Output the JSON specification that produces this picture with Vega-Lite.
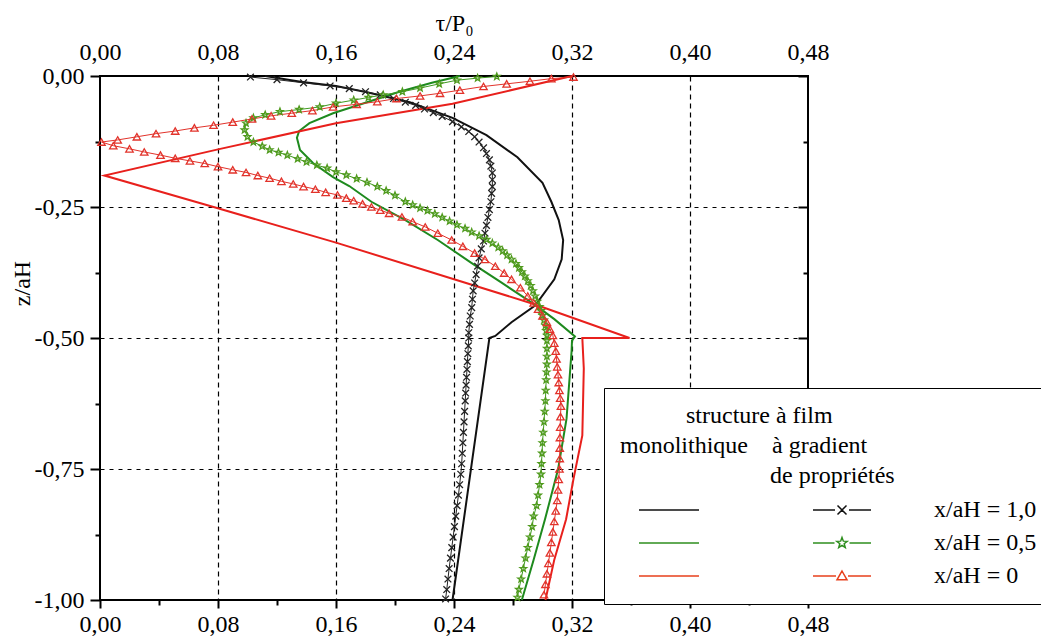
{
"$schema": "https://vega.github.io/schema/vega-lite/v6.json",
"width": 708, "height": 524,
"autosize": {"type": "none"},
"padding": {"left": 100, "top": 76, "right": 233, "bottom": 44},
"background": "white",
"config": {"view": {"stroke": "black", "strokeWidth": 2}, "font": "Liberation Serif, Times New Roman, serif"},
"datasets": {
"mono": [
{"case":"1,0","tau":0.112,"z":0},{"case":"1,0","tau":0.136,"z":-0.011},{"case":"1,0","tau":0.160,"z":-0.019},{"case":"1,0","tau":0.181,"z":-0.031},{"case":"1,0","tau":0.210,"z":-0.050},{"case":"1,0","tau":0.239,"z":-0.080},{"case":"1,0","tau":0.262,"z":-0.113},{"case":"1,0","tau":0.283,"z":-0.155},{"case":"1,0","tau":0.300,"z":-0.204},{"case":"1,0","tau":0.306,"z":-0.240},{"case":"1,0","tau":0.311,"z":-0.275},{"case":"1,0","tau":0.314,"z":-0.313},{"case":"1,0","tau":0.313,"z":-0.350},{"case":"1,0","tau":0.308,"z":-0.388},{"case":"1,0","tau":0.295,"z":-0.438},{"case":"1,0","tau":0.279,"z":-0.470},{"case":"1,0","tau":0.268,"z":-0.496},{"case":"1,0","tau":0.264,"z":-0.500},{"case":"1,0","tau":0.239,"z":-1.0},
{"case":"0,5","tau":0.244,"z":0},{"case":"0,5","tau":0.225,"z":-0.013},{"case":"0,5","tau":0.203,"z":-0.030},{"case":"0,5","tau":0.181,"z":-0.050},{"case":"0,5","tau":0.158,"z":-0.071},{"case":"0,5","tau":0.142,"z":-0.090},{"case":"0,5","tau":0.135,"z":-0.105},{"case":"0,5","tau":0.1335,"z":-0.118},{"case":"0,5","tau":0.1356,"z":-0.141},{"case":"0,5","tau":0.1444,"z":-0.166},{"case":"0,5","tau":0.158,"z":-0.193},{"case":"0,5","tau":0.169,"z":-0.210},{"case":"0,5","tau":0.184,"z":-0.240},{"case":"0,5","tau":0.207,"z":-0.275},{"case":"0,5","tau":0.229,"z":-0.313},{"case":"0,5","tau":0.252,"z":-0.357},{"case":"0,5","tau":0.272,"z":-0.394},{"case":"0,5","tau":0.294,"z":-0.435},{"case":"0,5","tau":0.308,"z":-0.464},{"case":"0,5","tau":0.322,"z":-0.497},{"case":"0,5","tau":0.320,"z":-0.505},{"case":"0,5","tau":0.3197,"z":-0.526},{"case":"0,5","tau":0.3163,"z":-0.654},{"case":"0,5","tau":0.3106,"z":-0.75},{"case":"0,5","tau":0.3017,"z":-0.846},{"case":"0,5","tau":0.294,"z":-0.923},{"case":"0,5","tau":0.286,"z":-1.0},
{"case":"0","tau":0.320,"z":0},{"case":"0","tau":0.239,"z":-0.053},{"case":"0","tau":0.160,"z":-0.090},{"case":"0","tau":0.080,"z":-0.140},{"case":"0","tau":0.003,"z":-0.190},{"case":"0","tau":0.077,"z":-0.250},{"case":"0","tau":0.160,"z":-0.318},{"case":"0","tau":0.294,"z":-0.435},{"case":"0","tau":0.359,"z":-0.500},{"case":"0","tau":0.327,"z":-0.500},{"case":"0","tau":0.328,"z":-0.558},{"case":"0","tau":0.327,"z":-0.686},{"case":"0","tau":0.321,"z":-0.769},{"case":"0","tau":0.316,"z":-0.846},{"case":"0","tau":0.308,"z":-0.923},{"case":"0","tau":0.302,"z":-1.0}
],
"grad": [
{"case":"1,0","tau":0.102,"z":-0.002},{"case":"1,0","tau":0.120,"z":-0.007},{"case":"1,0","tau":0.138,"z":-0.013},{"case":"1,0","tau":0.156,"z":-0.019},{"case":"1,0","tau":0.169,"z":-0.024},{"case":"1,0","tau":0.180,"z":-0.030},{"case":"1,0","tau":0.190,"z":-0.036},{"case":"1,0","tau":0.199,"z":-0.043},{"case":"1,0","tau":0.207,"z":-0.050},{"case":"1,0","tau":0.214,"z":-0.056},{"case":"1,0","tau":0.220,"z":-0.063},{"case":"1,0","tau":0.226,"z":-0.070},{"case":"1,0","tau":0.232,"z":-0.077},{"case":"1,0","tau":0.239,"z":-0.087},{"case":"1,0","tau":0.245,"z":-0.097},{"case":"1,0","tau":0.250,"z":-0.106},{"case":"1,0","tau":0.254,"z":-0.116},{"case":"1,0","tau":0.257,"z":-0.126},{"case":"1,0","tau":0.260,"z":-0.137},{"case":"1,0","tau":0.262,"z":-0.148},{"case":"1,0","tau":0.264,"z":-0.160},{"case":"1,0","tau":0.265,"z":-0.172},{"case":"1,0","tau":0.266,"z":-0.185},{"case":"1,0","tau":0.266,"z":-0.198},{"case":"1,0","tau":0.266,"z":-0.211},{"case":"1,0","tau":0.2655,"z":-0.224},{"case":"1,0","tau":0.265,"z":-0.240},{"case":"1,0","tau":0.264,"z":-0.255},{"case":"1,0","tau":0.263,"z":-0.270},{"case":"1,0","tau":0.262,"z":-0.285},{"case":"1,0","tau":0.261,"z":-0.300},{"case":"1,0","tau":0.260,"z":-0.315},{"case":"1,0","tau":0.2585,"z":-0.330},{"case":"1,0","tau":0.257,"z":-0.347},{"case":"1,0","tau":0.256,"z":-0.363},{"case":"1,0","tau":0.255,"z":-0.379},{"case":"1,0","tau":0.254,"z":-0.395},{"case":"1,0","tau":0.253,"z":-0.410},{"case":"1,0","tau":0.2525,"z":-0.426},{"case":"1,0","tau":0.252,"z":-0.442},{"case":"1,0","tau":0.251,"z":-0.458},{"case":"1,0","tau":0.2505,"z":-0.474},{"case":"1,0","tau":0.250,"z":-0.490},{"case":"1,0","tau":0.250,"z":-0.500},{"case":"1,0","tau":0.2497,"z":-0.515},{"case":"1,0","tau":0.2494,"z":-0.530},{"case":"1,0","tau":0.2491,"z":-0.545},{"case":"1,0","tau":0.2488,"z":-0.560},{"case":"1,0","tau":0.2485,"z":-0.575},{"case":"1,0","tau":0.2482,"z":-0.590},{"case":"1,0","tau":0.2479,"z":-0.605},{"case":"1,0","tau":0.2476,"z":-0.620},{"case":"1,0","tau":0.2472,"z":-0.640},{"case":"1,0","tau":0.2468,"z":-0.660},{"case":"1,0","tau":0.2464,"z":-0.680},{"case":"1,0","tau":0.246,"z":-0.700},{"case":"1,0","tau":0.2456,"z":-0.720},{"case":"1,0","tau":0.2452,"z":-0.740},{"case":"1,0","tau":0.2446,"z":-0.760},{"case":"1,0","tau":0.2438,"z":-0.780},{"case":"1,0","tau":0.243,"z":-0.800},{"case":"1,0","tau":0.2421,"z":-0.820},{"case":"1,0","tau":0.2412,"z":-0.840},{"case":"1,0","tau":0.2403,"z":-0.860},{"case":"1,0","tau":0.2394,"z":-0.880},{"case":"1,0","tau":0.2385,"z":-0.900},{"case":"1,0","tau":0.2376,"z":-0.920},{"case":"1,0","tau":0.2367,"z":-0.940},{"case":"1,0","tau":0.2359,"z":-0.960},{"case":"1,0","tau":0.2351,"z":-0.980},{"case":"1,0","tau":0.2343,"z":-0.998},
{"case":"0,5","tau":0.269,"z":-0.001},{"case":"0,5","tau":0.256,"z":-0.004},{"case":"0,5","tau":0.242,"z":-0.008},{"case":"0,5","tau":0.230,"z":-0.015},{"case":"0,5","tau":0.217,"z":-0.023},{"case":"0,5","tau":0.205,"z":-0.030},{"case":"0,5","tau":0.192,"z":-0.036},{"case":"0,5","tau":0.182,"z":-0.041},{"case":"0,5","tau":0.172,"z":-0.046},{"case":"0,5","tau":0.160,"z":-0.052},{"case":"0,5","tau":0.149,"z":-0.059},{"case":"0,5","tau":0.135,"z":-0.064},{"case":"0,5","tau":0.122,"z":-0.068},{"case":"0,5","tau":0.112,"z":-0.074},{"case":"0,5","tau":0.104,"z":-0.080},{"case":"0,5","tau":0.099,"z":-0.090},{"case":"0,5","tau":0.098,"z":-0.103},{"case":"0,5","tau":0.100,"z":-0.116},{"case":"0,5","tau":0.104,"z":-0.126},{"case":"0,5","tau":0.110,"z":-0.134},{"case":"0,5","tau":0.115,"z":-0.141},{"case":"0,5","tau":0.121,"z":-0.146},{"case":"0,5","tau":0.127,"z":-0.151},{"case":"0,5","tau":0.134,"z":-0.158},{"case":"0,5","tau":0.140,"z":-0.164},{"case":"0,5","tau":0.147,"z":-0.170},{"case":"0,5","tau":0.154,"z":-0.176},{"case":"0,5","tau":0.160,"z":-0.183},{"case":"0,5","tau":0.167,"z":-0.189},{"case":"0,5","tau":0.174,"z":-0.196},{"case":"0,5","tau":0.181,"z":-0.203},{"case":"0,5","tau":0.188,"z":-0.211},{"case":"0,5","tau":0.194,"z":-0.219},{"case":"0,5","tau":0.200,"z":-0.228},{"case":"0,5","tau":0.207,"z":-0.240},{"case":"0,5","tau":0.212,"z":-0.246},{"case":"0,5","tau":0.217,"z":-0.252},{"case":"0,5","tau":0.222,"z":-0.257},{"case":"0,5","tau":0.227,"z":-0.263},{"case":"0,5","tau":0.232,"z":-0.270},{"case":"0,5","tau":0.237,"z":-0.277},{"case":"0,5","tau":0.242,"z":-0.284},{"case":"0,5","tau":0.2475,"z":-0.291},{"case":"0,5","tau":0.252,"z":-0.298},{"case":"0,5","tau":0.257,"z":-0.305},{"case":"0,5","tau":0.262,"z":-0.312},{"case":"0,5","tau":0.266,"z":-0.319},{"case":"0,5","tau":0.270,"z":-0.327},{"case":"0,5","tau":0.273,"z":-0.334},{"case":"0,5","tau":0.276,"z":-0.342},{"case":"0,5","tau":0.279,"z":-0.350},{"case":"0,5","tau":0.282,"z":-0.358},{"case":"0,5","tau":0.284,"z":-0.366},{"case":"0,5","tau":0.286,"z":-0.374},{"case":"0,5","tau":0.288,"z":-0.382},{"case":"0,5","tau":0.290,"z":-0.391},{"case":"0,5","tau":0.292,"z":-0.400},{"case":"0,5","tau":0.2935,"z":-0.410},{"case":"0,5","tau":0.295,"z":-0.420},{"case":"0,5","tau":0.2965,"z":-0.430},{"case":"0,5","tau":0.298,"z":-0.440},{"case":"0,5","tau":0.299,"z":-0.448},{"case":"0,5","tau":0.300,"z":-0.457},{"case":"0,5","tau":0.301,"z":-0.466},{"case":"0,5","tau":0.302,"z":-0.476},{"case":"0,5","tau":0.3025,"z":-0.486},{"case":"0,5","tau":0.303,"z":-0.495},{"case":"0,5","tau":0.303,"z":-0.505},{"case":"0,5","tau":0.303,"z":-0.520},{"case":"0,5","tau":0.303,"z":-0.535},{"case":"0,5","tau":0.303,"z":-0.550},{"case":"0,5","tau":0.3028,"z":-0.565},{"case":"0,5","tau":0.3025,"z":-0.580},{"case":"0,5","tau":0.3022,"z":-0.600},{"case":"0,5","tau":0.302,"z":-0.620},{"case":"0,5","tau":0.3015,"z":-0.640},{"case":"0,5","tau":0.301,"z":-0.660},{"case":"0,5","tau":0.3005,"z":-0.680},{"case":"0,5","tau":0.300,"z":-0.700},{"case":"0,5","tau":0.2997,"z":-0.720},{"case":"0,5","tau":0.2993,"z":-0.740},{"case":"0,5","tau":0.299,"z":-0.760},{"case":"0,5","tau":0.298,"z":-0.780},{"case":"0,5","tau":0.297,"z":-0.800},{"case":"0,5","tau":0.296,"z":-0.820},{"case":"0,5","tau":0.294,"z":-0.840},{"case":"0,5","tau":0.293,"z":-0.860},{"case":"0,5","tau":0.2915,"z":-0.880},{"case":"0,5","tau":0.290,"z":-0.900},{"case":"0,5","tau":0.2885,"z":-0.920},{"case":"0,5","tau":0.287,"z":-0.940},{"case":"0,5","tau":0.2855,"z":-0.960},{"case":"0,5","tau":0.284,"z":-0.980},{"case":"0,5","tau":0.283,"z":-0.995},
{"case":"0","tau":0.321,"z":-0.002},{"case":"0","tau":0.306,"z":-0.005},{"case":"0","tau":0.2915,"z":-0.010},{"case":"0","tau":0.2757,"z":-0.015},{"case":"0","tau":0.260,"z":-0.020},{"case":"0","tau":0.244,"z":-0.027},{"case":"0","tau":0.2305,"z":-0.033},{"case":"0","tau":0.217,"z":-0.038},{"case":"0","tau":0.201,"z":-0.043},{"case":"0","tau":0.188,"z":-0.049},{"case":"0","tau":0.174,"z":-0.054},{"case":"0","tau":0.158,"z":-0.059},{"case":"0","tau":0.144,"z":-0.066},{"case":"0","tau":0.130,"z":-0.071},{"case":"0","tau":0.116,"z":-0.076},{"case":"0","tau":0.103,"z":-0.082},{"case":"0","tau":0.090,"z":-0.088},{"case":"0","tau":0.077,"z":-0.094},{"case":"0","tau":0.064,"z":-0.099},{"case":"0","tau":0.051,"z":-0.105},{"case":"0","tau":0.038,"z":-0.110},{"case":"0","tau":0.025,"z":-0.116},{"case":"0","tau":0.012,"z":-0.122},{"case":"0","tau":0.001,"z":-0.126},{"case":"0","tau":0.009,"z":-0.133},{"case":"0","tau":0.020,"z":-0.139},{"case":"0","tau":0.030,"z":-0.145},{"case":"0","tau":0.041,"z":-0.151},{"case":"0","tau":0.051,"z":-0.157},{"case":"0","tau":0.061,"z":-0.162},{"case":"0","tau":0.071,"z":-0.167},{"case":"0","tau":0.080,"z":-0.173},{"case":"0","tau":0.090,"z":-0.179},{"case":"0","tau":0.099,"z":-0.184},{"case":"0","tau":0.107,"z":-0.190},{"case":"0","tau":0.115,"z":-0.195},{"case":"0","tau":0.123,"z":-0.201},{"case":"0","tau":0.131,"z":-0.206},{"case":"0","tau":0.138,"z":-0.211},{"case":"0","tau":0.146,"z":-0.216},{"case":"0","tau":0.153,"z":-0.222},{"case":"0","tau":0.161,"z":-0.227},{"case":"0","tau":0.167,"z":-0.233},{"case":"0","tau":0.172,"z":-0.238},{"case":"0","tau":0.178,"z":-0.244},{"case":"0","tau":0.184,"z":-0.250},{"case":"0","tau":0.190,"z":-0.256},{"case":"0","tau":0.196,"z":-0.262},{"case":"0","tau":0.2047,"z":-0.269},{"case":"0","tau":0.212,"z":-0.278},{"case":"0","tau":0.2205,"z":-0.288},{"case":"0","tau":0.229,"z":-0.300},{"case":"0","tau":0.2384,"z":-0.313},{"case":"0","tau":0.246,"z":-0.325},{"case":"0","tau":0.254,"z":-0.338},{"case":"0","tau":0.261,"z":-0.350},{"case":"0","tau":0.268,"z":-0.363},{"case":"0","tau":0.274,"z":-0.376},{"case":"0","tau":0.279,"z":-0.388},{"case":"0","tau":0.285,"z":-0.404},{"case":"0","tau":0.290,"z":-0.420},{"case":"0","tau":0.294,"z":-0.433},{"case":"0","tau":0.297,"z":-0.445},{"case":"0","tau":0.300,"z":-0.458},{"case":"0","tau":0.303,"z":-0.470},{"case":"0","tau":0.305,"z":-0.483},{"case":"0","tau":0.307,"z":-0.495},{"case":"0","tau":0.308,"z":-0.510},{"case":"0","tau":0.309,"z":-0.525},{"case":"0","tau":0.3095,"z":-0.540},{"case":"0","tau":0.310,"z":-0.555},{"case":"0","tau":0.3105,"z":-0.570},{"case":"0","tau":0.311,"z":-0.585},{"case":"0","tau":0.3115,"z":-0.600},{"case":"0","tau":0.312,"z":-0.615},{"case":"0","tau":0.3125,"z":-0.630},{"case":"0","tau":0.3122,"z":-0.650},{"case":"0","tau":0.312,"z":-0.670},{"case":"0","tau":0.3118,"z":-0.690},{"case":"0","tau":0.3117,"z":-0.710},{"case":"0","tau":0.3117,"z":-0.730},{"case":"0","tau":0.3115,"z":-0.750},{"case":"0","tau":0.311,"z":-0.770},{"case":"0","tau":0.3105,"z":-0.790},{"case":"0","tau":0.310,"z":-0.810},{"case":"0","tau":0.309,"z":-0.830},{"case":"0","tau":0.308,"z":-0.850},{"case":"0","tau":0.307,"z":-0.870},{"case":"0","tau":0.306,"z":-0.890},{"case":"0","tau":0.305,"z":-0.910},{"case":"0","tau":0.304,"z":-0.930},{"case":"0","tau":0.303,"z":-0.950},{"case":"0","tau":0.302,"z":-0.970},{"case":"0","tau":0.301,"z":-0.990}
],
"leg": [{"case":"1,0"},{"case":"0,5"},{"case":"0"}]
},
"resolve": {
  "scale": {"color": "independent", "shape": "independent", "size": "independent"},
  "axis": {"x": "independent", "y": "independent"},
  "legend": {"color": "independent", "shape": "independent", "size": "independent"}
},
"layer": [
{
  "mark": {"type": "rule", "color": "black", "strokeWidth": 2},
  "encoding": {"y": {"datum": -0.5, "type": "quantitative", "scale": {"domain": [-1, 0], "nice": false, "zero": false}, "axis": null}}
},
{
  "data": {"name": "mono"},
  "mark": {"type": "line", "strokeWidth": 2},
  "encoding": {
    "x": {"field": "tau", "type": "quantitative", "scale": {"domain": [0, 0.48], "nice": false, "zero": false},
      "axis": {"orient": "bottom", "title": null, "domain": false,
        "values": [0,0.04,0.08,0.12,0.16,0.2,0.24,0.28,0.32,0.36,0.4,0.44,0.48],
        "labelExpr": "round(datum.value*100) % 8 == 4 ? '' : replace(format(datum.value, '.2f'), '.', ',')",
        "labelFont": "Liberation Serif, Times New Roman, serif", "labelFontSize": 24, "labelColor": "black", "labelPadding": 4, "labelFlush": false, "labelOverlap": false,
        "ticks": true, "tickColor": "black", "tickWidth": 2,
        "tickSize": {"condition": {"test": "round(datum.value*100) % 8 == 4", "value": 5}, "value": 8},
        "grid": true, "gridColor": "black", "gridWidth": 1.2, "gridDash": [5, 4],
        "gridOpacity": {"condition": {"test": "round(datum.value*100) % 8 == 4 || datum.value < 0.01 || datum.value > 0.47", "value": 0}, "value": 1}
      }},
    "y": {"field": "z", "type": "quantitative", "scale": {"domain": [-1, 0], "nice": false, "zero": false},
      "axis": {"orient": "left", "title": "z/aH", "titleFont": "Liberation Serif, Times New Roman, serif", "titleFontSize": 24, "titleFontWeight": "normal", "titleColor": "black",
        "titleX": -78, "titleY": 207, "titleAngle": 270, "titleAlign": "center", "titleBaseline": "middle",
        "domain": false,
        "values": [0,-0.125,-0.25,-0.375,-0.5,-0.625,-0.75,-0.875,-1],
        "labelExpr": "abs(round(datum.value*1000)) % 250 != 0 ? '' : replace(replace(format(datum.value, '.2f'), '.', ','), '\u2212', '-')",
        "labelFont": "Liberation Serif, Times New Roman, serif", "labelFontSize": 24, "labelColor": "black", "labelPadding": 6, "labelFlush": false, "labelOverlap": false,
        "ticks": true, "tickColor": "black", "tickWidth": 2,
        "tickSize": {"condition": {"test": "abs(round(datum.value*1000)) % 250 != 0", "value": 5}, "value": 10},
        "grid": true, "gridColor": "black", "gridWidth": 1.2, "gridDash": [4, 5],
        "gridOpacity": {"condition": {"test": "abs(round(datum.value*1000)) % 250 != 0 || datum.value > -0.01 || datum.value < -0.99", "value": 0}, "value": 1}
      }},
    "color": {"field": "case", "type": "nominal", "scale": {"domain": ["1,0","0,5","0"], "range": ["#111111","#1e8a1e","#e8201c"]}, "legend": null},
    "order": {"value": null}
  }
},
{
  "data": {"name": "grad"},
  "mark": {"type": "line", "strokeWidth": 1},
  "encoding": {
    "x": {"field": "tau", "type": "quantitative", "scale": {"domain": [0, 0.48], "nice": false, "zero": false},
      "axis": {"orient": "top", "title": "τ/P₀", "titleFont": "Liberation Serif, Times New Roman, serif", "titleFontSize": 24, "titleFontWeight": "normal", "titleColor": "black", "titlePadding": 5,
        "domain": false, "values": [0,0.08,0.16,0.24,0.32,0.4,0.48],
        "labelExpr": "replace(format(datum.value, '.2f'), '.', ',')",
        "labelFont": "Liberation Serif, Times New Roman, serif", "labelFontSize": 24, "labelColor": "black", "labelPadding": 12, "labelFlush": false, "labelOverlap": false,
        "ticks": false, "tickSize": 0, "grid": false}},
    "y": {"field": "z", "type": "quantitative", "scale": {"domain": [-1, 0], "nice": false, "zero": false},
      "axis": {"orient": "right", "title": null, "domain": false, "labels": false, "grid": false,
        "values": [0,-0.125,-0.25,-0.375,-0.5,-0.625,-0.75,-0.875,-1],
        "ticks": true, "tickColor": "black", "tickWidth": 2,
        "tickSize": {"condition": {"test": "abs(round(datum.value*1000)) % 250 != 0", "value": -5}, "value": -10}}},
    "color": {"field": "case", "type": "nominal", "scale": {"domain": ["1,0","0,5","0"], "range": ["#222222","#3f9a22","#e2332b"]}, "legend": null},
    "order": {"value": null}
  }
},
{
  "data": {"name": "grad"},
  "mark": {"type": "point", "filled": false, "strokeWidth": 1.3, "opacity": 1},
  "encoding": {
    "x": {"field": "tau", "type": "quantitative", "scale": {"domain": [0, 0.48], "nice": false, "zero": false}, "axis": null},
    "y": {"field": "z", "type": "quantitative", "scale": {"domain": [-1, 0], "nice": false, "zero": false}, "axis": null},
    "color": {"field": "case", "type": "nominal", "scale": {"domain": ["1,0","0,5","0"], "range": ["#222222","#4f9a1c","#e2332b"]}, "legend": null},
    "shape": {"field": "case", "type": "nominal", "scale": {"domain": ["1,0","0,5","0"], "range": ["M-1,-1L1,1M-1,1L1,-1", "M0,-1L0.247,-0.34L0.951,-0.309L0.399,0.13L0.588,0.809L0,0.42L-0.588,0.809L-0.399,0.13L-0.951,-0.309L-0.247,-0.34Z", "triangle-up"]}, "legend": null},
    "size": {"field": "case", "type": "nominal", "scale": {"domain": ["1,0","0,5","0"], "range": [45, 55, 75]}, "legend": null}
  }
},
{
  "data": {"name": "leg"},
  "mark": {"type": "point", "filled": false, "opacity": 0},
  "encoding": {
    "color": {"field": "case", "type": "nominal", "scale": {"domain": ["1,0","0,5","0"], "range": ["#111111","#2f8f1f","#e8401c"]},
      "legend": {"orient": "none", "legendX": 504, "legendY": 312, "direction": "vertical",
        "title": ["\u200b\u00a0\u00a0\u00a0\u00a0\u00a0\u00a0\u00a0\u00a0\u00a0\u00a0\u00a0structure à film", "monolithique\u00a0\u00a0\u00a0\u00a0à gradient", "\u200b\u00a0\u00a0\u00a0\u00a0\u00a0\u00a0\u00a0\u00a0\u00a0\u00a0\u00a0\u00a0\u00a0\u00a0\u00a0\u00a0\u00a0\u00a0\u00a0\u00a0\u00a0\u00a0\u00a0\u00a0\u00a0de propriétés"],
        "titleFont": "Liberation Serif, Times New Roman, serif", "titleFontSize": 24, "titleFontWeight": "normal", "titleColor": "black", "titleLineHeight": 30, "titleAlign": "left", "titleAnchor": "start", "titlePadding": 10, "titleLimit": 1000,
        "labelFont": "Liberation Serif, Times New Roman, serif", "labelFontSize": 24, "labelColor": "black", "labelExpr": "'x/aH = ' + datum.label", "labelOffset": 80, "labelLimit": 400,
        "symbolSize": 400, "symbolOffset": 210, "symbolStrokeWidth": 1.5, "symbolOpacity": 1,
        "rowPadding": 9, "padding": 16, "fillColor": "white", "strokeColor": "black", "cornerRadius": 0}},
    "shape": {"field": "case", "type": "nominal", "scale": {"domain": ["1,0","0,5","0"], "range": [
        "M-20.3,0L-14.3,0M-2.9,0L-0.7,0M0.7,0L2.9,0M-0.45,-0.45L0.45,0.45M-0.45,0.45L0.45,-0.45",
        "M-20.3,0L-14.3,0M-2.9,0L-0.75,0M0.75,0L2.9,0M0,-0.55L0.135,-0.186L0.523,-0.17L0.219,0.071L0.323,0.445L0,0.23L-0.323,0.445L-0.219,0.071L-0.523,-0.17L-0.135,-0.186Z",
        "M-20.3,0L-14.3,0M-2.9,0L-0.6,0M0.6,0L2.9,0M0,-0.5L0.5,0.38L-0.5,0.38Z"]},
      "legend": {"orient": "none", "legendX": 504, "legendY": 312, "direction": "vertical",
        "title": ["\u200b\u00a0\u00a0\u00a0\u00a0\u00a0\u00a0\u00a0\u00a0\u00a0\u00a0\u00a0structure à film", "monolithique\u00a0\u00a0\u00a0\u00a0à gradient", "\u200b\u00a0\u00a0\u00a0\u00a0\u00a0\u00a0\u00a0\u00a0\u00a0\u00a0\u00a0\u00a0\u00a0\u00a0\u00a0\u00a0\u00a0\u00a0\u00a0\u00a0\u00a0\u00a0\u00a0\u00a0\u00a0de propriétés"],
        "titleFont": "Liberation Serif, Times New Roman, serif", "titleFontSize": 24, "titleFontWeight": "normal", "titleColor": "black", "titleLineHeight": 30, "titleAlign": "left", "titleAnchor": "start", "titlePadding": 10, "titleLimit": 1000,
        "labelFont": "Liberation Serif, Times New Roman, serif", "labelFontSize": 24, "labelColor": "black", "labelExpr": "'x/aH = ' + datum.label", "labelOffset": 80, "labelLimit": 400,
        "symbolSize": 400, "symbolOffset": 210, "symbolStrokeWidth": 1.5, "symbolOpacity": 1,
        "rowPadding": 9, "padding": 16, "fillColor": "white", "strokeColor": "black", "cornerRadius": 0}}
  }
}
]
}
